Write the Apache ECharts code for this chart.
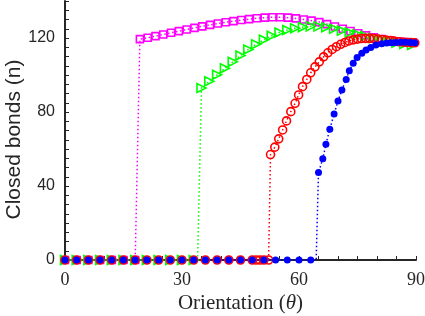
<!DOCTYPE html>
<html>
<head>
<meta charset="utf-8">
<script src="https://cdn.jsdelivr.net/npm/echarts@6/dist/echarts.min.js"></script>
<style>html,body{margin:0;padding:0;background:#fff}#c{width:425px;height:316px}</style>
</head>
<body>
<div id="c"></div>
<script>
// ---- data ----
const xTickLabels = [0, 30, 60, 90];
const yTickLabels = [0, 40, 80, 120];

// magenta squares
const magX = [0,3,6,9,12,15,18, 19.2,21.2,23.2,25.2,27.2,29.2,31.2,33.2,35.2,37.2,39.2,41.2,43.2,45.2,47.2,49.2,51.2,53.2,55.2,57.2,59.2,61.2,63.2,65.2,67.2,69.2,71.2,73.2,75.2,77.2,79.2,81.2,83.2,85.2,87.2,89.2];
const magY = [0,0,0,0,0,0,0, 119.4,120.1,121.0,121.9,122.8,123.7,124.6,125.5,126.3,127.1,127.8,128.5,129.1,129.7,130.2,130.7,131.0,131.2,131.2,131.0,130.6,130.0,129.4,128.6,127.5,126.2,125.0,123.8,122.6,121.4,120.4,119.5,118.8,118.2,117.8,117.5];

// green right-pointing triangles
const grnX = [0,3,6,9,12,15,18,21,24,27,30,33, 34, 35,37,39,41,43,45,47,49,51,53,55,57,59,61,63,65,67,69,71,73,75,77,79,81,83,85,87,89];
const grnY = [0,0,0,0,0,0,0,0,0,0,0,0, 0, 93.0,96.6,100.1,103.6,107.1,110.5,113.8,116.6,119.1,121.2,123.0,124.3,125.3,125.9,126.3,126.3,125.8,125.0,124.0,123.0,122.0,121.0,120.0,119.1,118.3,117.5,116.8,116.2];
const grnNoMarker = [34];

// red open circles
const redX = [0,3,6,9,12,15,18,21,24,27,30,33,36,39,42,45,48,49,50,51,52.2, 52.7,53.8,54.8,55.8,56.8,57.9,59.0,59.9,60.9,62.0,63.0,64.1,65.2,66.3,67.4,68.5,69.6,70.7,71.8,72.8,73.9,75.0,76.0,77.1,78.1,79.2,80.2,81.3,82.3,83.4,84.4,85.5,86.6,87.6,88.7,89.7];
const redY = [0,0,0,0,0,0,0,0,0,0,0,0,0,0,0,0,0,0,0,0,0, 57.0,61.0,65.5,70.3,75.2,80.2,84.7,89.2,93.7,97.6,101.2,104.4,107.1,109.8,112.0,113.8,115.3,116.6,117.6,118.4,119.0,119.4,119.7,119.8,119.8,119.7,119.5,119.2,118.9,118.6,118.3,118.0,117.8,117.6,117.5,117.4];

// blue filled circles
const bluX = [0,3,6,9,12,15,18,21,24,27,30,33,36,39,42,45,48,51,54,57,60,63, 64.4, 65.0,66.1,66.9,67.9,69.0,70.0,71.0,72.1,72.9,73.9,74.9,76.1,77.2,78.4,79.7,81.2,82.5,83.7,84.9,86.1,87.3,88.5,89.7];
const bluY = [0,0,0,0,0,0,0,0,0,0,0,0,0,0,0,0,0,0,0,0,0,0, 0, 47.3,54.7,62.6,70.7,78.9,85.9,91.9,97.6,102.3,106.3,109.5,111.7,113.5,114.9,116.2,116.9,117.3,117.5,117.6,117.7,117.7,117.6,117.5];
const bluNoMarker = [64.4];

function pairs(xs, ys, hidden) {
  return xs.map((x, i) => {
    if (hidden && hidden.indexOf(x) >= 0) return { value: [x, ys[i]], symbol: 'none' };
    return [x, ys[i]];
  });
}

const axisColor = '#262626';
const chart = echarts.init(document.getElementById('c'), null, { renderer: 'canvas' });

function mk(name, color, data, symbol, size, hollow, rotate) {
  return {
    name, type: 'line', data,
    symbol, symbolSize: size, symbolRotate: rotate || 0,
    showAllSymbol: true,
    itemStyle: hollow ? { color: 'rgba(0,0,0,0)', borderColor: color, borderWidth: 1.6 } : { color: color, borderWidth: 0 },
    lineStyle: { color: color, width: 1.5, type: [1.5, 2.5] },
    emphasis: { disabled: true },
    clip: false
  };
}

chart.setOption({
  animation: false,
  backgroundColor: '#fff',
  grid: { left: 65, right: 9, top: 1, bottom: 56, containLabel: false, outerBoundsMode: 'none' },
  xAxis: {
    type: 'value', min: 0, max: 90, interval: 5,
    name: 'Orientation ({i|θ})', nameLocation: 'middle', nameGap: 33, nameMoveOverlap: false,
    nameTextStyle: { fontFamily: 'Liberation Serif', fontSize: 21, color: axisColor,
      rich: { i: { fontFamily: 'Liberation Serif', fontStyle: 'italic', fontSize: 21, color: axisColor } } },
    axisLine: { show: true, lineStyle: { color: axisColor, width: 2 } },
    axisTick: { show: true, inside: true, length: 4, lineStyle: { color: axisColor, width: 1 } },
    axisLabel: { margin: 11, fontFamily: 'Liberation Serif', fontSize: 18, color: axisColor,
      formatter: v => xTickLabels.indexOf(v) >= 0 ? String(v) : '' },
    splitLine: { show: false }
  },
  yAxis: {
    type: 'value', min: 0, max: 140, interval: 5,
    name: 'Closed bonds (n)', nameLocation: 'middle', nameGap: 40, nameRotate: 90, nameMoveOverlap: false,
    nameTextStyle: { fontFamily: 'Liberation Sans', fontSize: 21, color: axisColor, padding: [0, 18, 0, 0] },
    axisLine: { show: true, lineStyle: { color: axisColor, width: 2 } },
    axisTick: { show: true, inside: true, length: 4, lineStyle: { color: axisColor, width: 1 } },
    axisLabel: { margin: 10, fontFamily: 'Liberation Sans', fontSize: 16, color: axisColor,
      formatter: v => yTickLabels.indexOf(v) >= 0 ? String(v) : '' },
    splitLine: { show: false }
  },
  series: [
    mk('magenta', '#ff00ff', pairs(magX, magY), 'rect', 7, true),
    mk('green', '#00ff00', pairs(grnX, grnY, grnNoMarker), 'triangle', 9, true, -90),
    mk('red', '#ff0000', pairs(redX, redY), 'circle', 8, true),
    mk('blue', '#0000ff', pairs(bluX, bluY, bluNoMarker), 'circle', 7, false)
  ]
});
</script>
</body>
</html>
